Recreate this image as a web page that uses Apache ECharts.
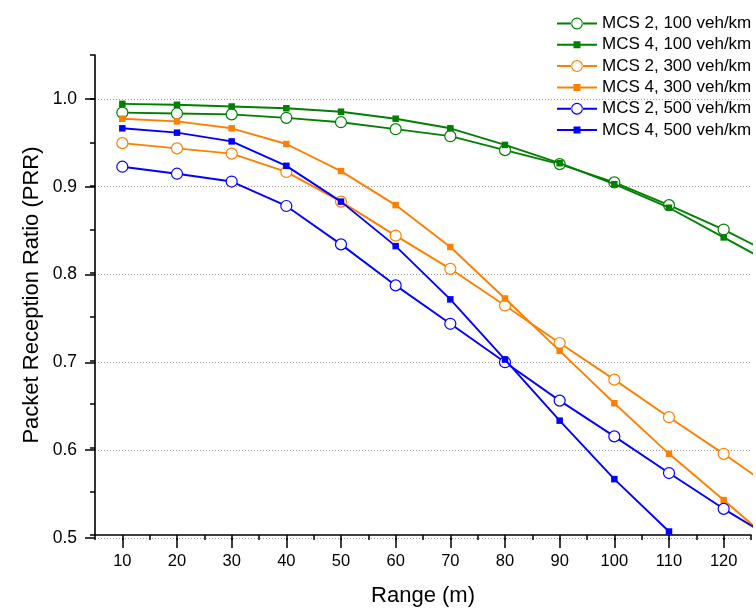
<!DOCTYPE html>
<html>
<head>
<meta charset="utf-8">
<script src="https://cdn.jsdelivr.net/npm/echarts@6/dist/echarts.min.js"></script>
<style>
html,body{margin:0;padding:0;background:#fff;}
#chart{width:756px;height:612px;}
</style>
</head>
<body>
<div id="chart"></div>
<script>
// ---- data ----
const ranges = [10, 20, 30, 40, 50, 60, 70, 80, 90, 100, 110, 120, 130];
const xTickLabels = [10, 20, 30, 40, 50, 60, 70, 80, 90, 100, 110, 120];
const yTickLabels = [0.5, 0.6, 0.7, 0.8, 0.9, 1.0];
const seriesNames = ['MCS 2, 100 veh/km', 'MCS 4, 100 veh/km', 'MCS 2, 300 veh/km',
                     'MCS 4, 300 veh/km', 'MCS 2, 500 veh/km', 'MCS 4, 500 veh/km'];
const mcs2_100 = [0.984, 0.983, 0.982, 0.978, 0.973, 0.965, 0.957, 0.941, 0.925, 0.904, 0.878, 0.850, 0.818];
const mcs4_100 = [0.994, 0.993, 0.991, 0.989, 0.985, 0.977, 0.966, 0.947, 0.926, 0.902, 0.875, 0.841, 0.807];
const mcs2_300 = [0.949, 0.943, 0.937, 0.916, 0.882, 0.843, 0.805, 0.763, 0.720, 0.678, 0.635, 0.593, 0.549];
const mcs4_300 = [0.977, 0.974, 0.966, 0.948, 0.917, 0.878, 0.830, 0.771, 0.711, 0.651, 0.593, 0.540, 0.486];
const mcs2_500 = [0.922, 0.914, 0.905, 0.877, 0.833, 0.786, 0.742, 0.698, 0.654, 0.613, 0.571, 0.530, 0.492];
const mcs4_500 = [0.966, 0.961, 0.951, 0.923, 0.882, 0.831, 0.770, 0.701, 0.631, 0.564, 0.504];

const seriesValues = [mcs2_100, mcs4_100, mcs2_300, mcs4_300, mcs2_500, mcs4_500];
const colors = ['#008000', '#008000', '#FF8000', '#FF8000', '#0000FF', '#0000FF'];
const openMarker = [true, false, true, false, true, false];

// ---- layout ----
const FONT = "'Liberation Sans', Arial, sans-serif";
const W = 756, H = 612;
const plotLeft = 95, plotRight = 751, plotTop = 55, plotBottom = 538;
const xMin = 5, xMax = 125, yMin = 0.5, yMax = 1.05;
const pw = plotRight - plotLeft, ph = plotBottom - plotTop;
const pxPerX = pw / (xMax - xMin);
const pxPerY = ph / (yMax - yMin);
const xMajMin = xTickLabels[0], xMajMax = xTickLabels[xTickLabels.length - 1];
const yMajMin = yTickLabels[0], yMajMax = yTickLabels[yTickLabels.length - 1];

const circleIcon = 'path://M0,5 L14.6,5 L14.6,7 L0,7 Z M25.4,5 L40,5 L40,7 L25.4,7 Z ' +
  'M26,6 A6,6 0 1,0 14,6 A6,6 0 1,0 26,6 Z M24.8,6 A4.8,4.8 0 1,1 15.2,6 A4.8,4.8 0 1,1 24.8,6 Z';
const squareIcon = 'path://M0,2.5 L40,2.5 L40,4.5 L0,4.5 Z M16.5,0 L23.5,0 L23.5,7 L16.5,7 Z';

const series = seriesValues.map((vals, i) => ({
  name: seriesNames[i],
  type: 'line',
  xAxisIndex: 0,
  yAxisIndex: 0,
  clip: true,
  data: vals.map((v, k) => [ranges[k], v]),
  symbol: openMarker[i] ? 'circle' : 'rect',
  symbolSize: openMarker[i] ? 11 : 6.5,
  showAllSymbol: true,
  lineStyle: { color: colors[i], width: 1.9 },
  itemStyle: openMarker[i]
    ? { color: '#ffffff', borderColor: colors[i], borderWidth: 1.2 }
    : { color: colors[i], borderWidth: 0 },
  emphasis: { disabled: true },
  z: 2 + i
}));

const option = {
  animation: false,
  backgroundColor: '#ffffff',
  textStyle: { fontFamily: FONT, color: '#000' },
  legend: {
    orient: 'vertical',
    left: 557,
    top: 15,
    padding: 0,
    itemWidth: 40,
    itemHeight: 12,
    itemGap: 4.3,
    selectedMode: false,
    itemStyle: { borderWidth: 0 },
    textStyle: { fontFamily: FONT, fontSize: 17, color: '#000', lineHeight: 17, padding: [0, 0, 0, 0] },
    data: seriesNames.map((n, i) => ({
      name: n,
      icon: openMarker[i] ? circleIcon : squareIcon,
      itemStyle: { color: colors[i], borderWidth: 0 }
    }))
  },
  grid: [
    { left: plotLeft, top: plotTop, width: pw, height: ph, containLabel: false },
    // grid for major x ticks/labels (same scale, spans 10..120)
    { left: plotLeft + (xMajMin - xMin) * pxPerX, top: plotTop,
      width: (xMajMax - xMajMin) * pxPerX, height: ph, containLabel: false },
    // grid for major y ticks/labels/gridlines (same scale, spans 0.5..1.0)
    { left: plotLeft, top: plotTop + (yMax - yMajMax) * pxPerY, width: pw,
      height: (yMajMax - yMajMin) * pxPerY, containLabel: false }
  ],
  xAxis: [
    {
      gridIndex: 0, type: 'value', min: xMin, max: xMax, interval: 5,
      axisLine: { show: true, onZero: false, lineStyle: { color: '#000', width: 1.6 } },
      axisTick: { show: true, length: 5, lineStyle: { color: '#000', width: 1.5 } },
      axisLabel: { show: false },
      splitLine: { show: false },
      name: 'Range (m)', nameLocation: 'middle', nameGap: 50,
      nameTextStyle: { fontFamily: FONT, fontSize: 22, color: '#000' },
      z: 5
    },
    {
      gridIndex: 1, type: 'value', min: xMajMin, max: xMajMax, interval: 10,
      axisLine: { show: false },
      axisTick: { show: true, length: 10, lineStyle: { color: '#000', width: 1.5 } },
      axisLabel: { show: true, fontFamily: FONT, fontSize: 16.5, color: '#000', margin: 15,
        showMinLabel: true, showMaxLabel: true },
      splitLine: { show: false }
    },
    { gridIndex: 2, type: 'value', min: 0, max: 1, show: false }
  ],
  yAxis: [
    {
      gridIndex: 0, type: 'value', min: yMin, max: yMax, interval: 0.05,
      axisLine: { show: true, onZero: false, lineStyle: { color: '#000', width: 1.6 } },
      axisTick: { show: true, length: 5, lineStyle: { color: '#000', width: 1.5 } },
      axisLabel: { show: false },
      splitLine: { show: false },
      name: 'Packet Reception Ratio (PRR)', nameLocation: 'middle', nameGap: 52,
      nameTextStyle: { fontFamily: FONT, fontSize: 22, color: '#000' },
      z: 5
    },
    { gridIndex: 1, type: 'value', min: 0, max: 1, show: false },
    {
      gridIndex: 2, type: 'value', min: yMajMin, max: yMajMax, interval: 0.1,
      axisLine: { show: false },
      axisTick: { show: true, length: 10, lineStyle: { color: '#000', width: 1.5 } },
      axisLabel: { show: true, fontFamily: FONT, fontSize: 17.5, color: '#000', margin: 18,
        showMinLabel: true, showMaxLabel: true,
        formatter: v => (Math.round(v * 10) / 10).toFixed(1) },
      splitLine: { show: true, lineStyle: { color: '#9a9a9a', width: 1, type: [1, 2] } },
      z: 0
    }
  ],
  series: series
};

const chart = echarts.init(document.getElementById('chart'), null, { renderer: 'canvas', width: W, height: H });
chart.setOption(option);
</script>
</body>
</html>
